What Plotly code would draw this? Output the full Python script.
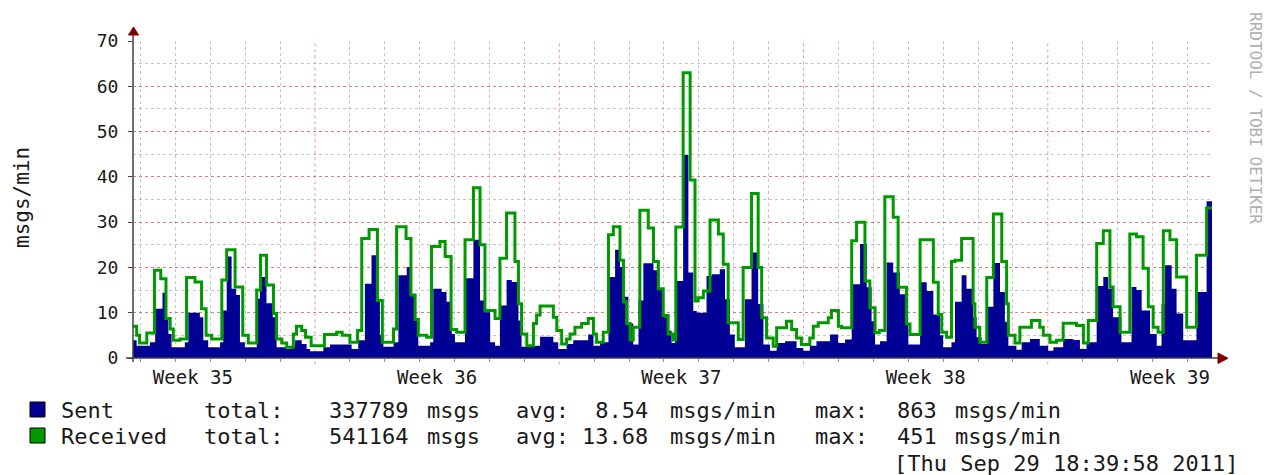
import plotly.graph_objects as go

# ---------------- data (time in days; day gridlines at integers) ----------------
recv_t = [-0.215, -0.11, -0.03, 0.18, 0.40, 0.58, 0.73, 0.85, 0.94, 1.13, 1.32, 1.56, 1.75, 1.88, 2.04,
          2.33, 2.47, 2.71, 2.93, 3.09, 3.33, 3.44, 3.61, 3.81, 3.90, 4.05, 4.19, 4.38, 4.47, 4.62,
          4.73, 4.89, 5.27, 5.62, 5.78, 6.00, 6.22, 6.34, 6.55, 6.79, 6.93, 7.25, 7.34, 7.61, 7.75,
          7.87, 7.96, 8.20, 8.34, 8.58, 8.73, 8.90, 9.06, 9.30, 9.54, 9.73, 9.87, 10.16, 10.30, 10.49,
          10.73, 10.83, 10.92, 11.07, 11.26, 11.35, 11.45, 11.83, 11.93, 12.07, 12.21, 12.31, 12.45,
          12.64, 12.83, 12.98, 13.07, 13.26, 13.41, 13.55, 13.74, 13.84, 13.93, 14.03, 14.12, 14.31,
          14.55, 14.70, 14.84, 14.98, 15.12, 15.27, 15.34, 15.55, 15.75, 15.89, 15.98, 16.13, 16.32,
          16.56, 16.70, 16.84, 17.13, 17.27, 17.51, 17.70, 17.80, 17.94, 18.13, 18.23, 18.51, 18.66,
          18.80, 18.94, 19.18, 19.28, 19.42, 19.71, 19.80, 20.00, 20.09, 20.38, 20.52, 20.76, 20.90,
          21.05, 21.17, 21.33, 21.57, 21.71, 21.95, 22.05, 22.34, 22.72, 22.86, 22.96, 23.10, 23.24,
          23.34, 23.53, 23.86, 23.91, 24.05, 24.25, 24.44, 24.68, 24.82, 24.87, 25.06, 25.20, 25.53,
          25.77, 25.87, 26.06, 26.25, 26.44, 26.82, 27.02, 27.16, 27.40, 27.59, 27.78, 27.87, 28.07,
          28.35, 28.54, 28.73, 28.88, 29.02, 29.16, 29.31, 29.50, 29.69, 29.98, 30.26, 30.55, 30.705]
recv_v = [7.0, 5.0, 3.3, 5.5, 19.4, 17.5, 8.7, 6.4, 3.9, 4.2, 17.8, 16.8, 10.9, 5.0, 4.2,
          17.2, 23.9, 15.7, 5.0, 3.3, 15.0, 22.7, 16.1, 9.8, 4.2, 3.3, 2.4, 5.3, 7.0, 6.1,
          4.6, 2.7, 5.2, 5.7, 5.0, 3.5, 6.1, 26.4, 28.4, 12.7, 3.5, 6.4, 29.0, 26.4, 13.9,
          8.5, 5.0, 4.6, 24.6, 25.7, 22.4, 6.3, 5.7, 26.1, 37.6, 25.0, 10.5, 8.7, 22.0, 32.0,
          21.3, 12.0, 5.3, 2.7, 7.6, 9.5, 11.5, 9.0, 6.1, 3.1, 4.2, 5.3, 6.8,
          7.6, 8.7, 5.3, 3.5, 5.7, 27.2, 29.0, 21.6, 12.4, 7.6, 4.0, 6.8, 32.6,
          28.7, 21.3, 15.3, 9.4, 5.3, 4.0, 28.9, 63.0, 39.3, 12.6, 13.3, 14.8, 30.5,
          27.4, 20.7, 7.8, 4.1, 20.0, 36.3, 20.0, 8.9, 4.4, 2.6, 6.7, 8.1, 6.3,
          4.4, 3.0, 4.4, 7.0, 7.8, 8.9, 10.5, 7.0, 6.7, 25.9, 30.0, 17.0, 11.1,
          5.6, 6.1, 35.6, 31.1, 15.6, 7.5, 5.2, 26.1, 16.7, 9.6, 5.7, 4.6, 21.3,
          21.6, 26.4, 12.0, 6.8, 3.5, 17.8, 31.8, 21.3, 12.0, 5.0, 3.3, 6.8, 8.3,
          6.8, 5.0, 3.5, 3.9, 7.7, 7.2, 3.3, 8.3, 25.3, 28.1, 15.7, 11.3, 5.7,
          27.4, 26.8, 19.8, 11.3, 6.8, 5.7, 28.1, 26.1, 17.9, 6.8, 22.7, 33.1, 33.1]

sent_t = [-0.215, -0.11, 0.27, 0.42, 0.63, 0.72, 0.80, 0.89, 1.27, 1.37, 1.70, 1.80, 1.94, 2.28,
          2.37, 2.47, 2.61, 2.74, 2.85, 2.99, 3.33, 3.42, 3.61, 3.79, 3.90, 4.19, 4.33, 4.43, 4.62,
          4.76, 4.86, 5.24, 5.43, 6.05, 6.24, 6.43, 6.62, 6.77, 6.86, 6.96, 7.25, 7.39, 7.63, 7.72,
          7.87, 7.96, 8.30, 8.39, 8.63, 8.77, 8.92, 9.01, 9.30, 9.54, 9.73, 9.87, 10.02, 10.16,
          10.30, 10.49, 10.64, 10.83, 10.92, 11.21, 11.45, 11.83, 11.97, 12.21, 12.40, 12.83, 12.98,
          13.17, 13.41, 13.60, 13.74, 13.84, 13.98, 14.12, 14.27, 14.41, 14.70, 14.84, 14.98, 15.12,
          15.22, 15.32, 15.55, 15.70, 15.84, 15.94, 16.22, 16.37, 16.60, 16.75, 16.89, 17.03, 17.32,
          17.51, 17.70, 17.85, 18.04, 18.23, 18.47, 18.80, 18.99, 19.18, 19.37, 19.76, 19.99, 20.19,
          20.38, 20.62, 20.81, 20.95, 21.05, 21.19, 21.38, 21.57, 21.76, 21.91, 22.00, 22.34, 22.53,
          22.72, 22.91, 23.00, 23.24, 23.34, 23.53, 23.67, 23.86, 23.96, 24.10, 24.25, 24.44, 24.63,
          24.77, 24.87, 25.10, 25.25, 25.49, 25.77, 26.01, 26.16, 26.44, 26.73, 26.92, 27.11, 27.40,
          27.59, 27.73, 27.87, 28.11, 28.40, 28.54, 28.69, 28.93, 29.12, 29.26, 29.36, 29.55, 29.69,
          29.88, 30.26, 30.55, 30.705]
sent_v = [3.9, 2.7, 3.5, 10.9, 14.4, 9.0, 5.3, 2.4, 3.5, 10.0, 9.0, 3.9, 2.4, 3.5,
          10.5, 22.4, 15.3, 13.9, 3.5, 2.4, 13.1, 17.9, 12.1, 9.0, 2.4, 2.0, 2.7, 3.9, 3.1,
          2.0, 1.5, 2.4, 3.0, 2.0, 3.9, 16.4, 22.7, 12.7, 5.0, 2.5, 3.5, 18.3, 20.1, 13.9,
          8.3, 2.7, 3.5, 15.3, 14.6, 12.4, 5.3, 3.5, 17.6, 26.1, 12.7, 10.1, 3.5, 2.7,
          11.6, 17.2, 16.8, 8.3, 2.5, 2.7, 4.7, 3.5, 2.0, 3.1, 3.9, 5.2, 2.7,
          3.5, 17.9, 23.9, 20.1, 13.5, 7.6, 3.0, 12.7, 20.9, 19.4, 15.3, 9.0, 6.0,
          3.3, 17.0, 44.8, 18.9, 10.4, 10.0, 18.1, 18.5, 19.6, 13.0, 5.2, 2.4, 13.0,
          23.3, 11.9, 3.0, 1.6, 3.3, 3.7, 2.2, 1.6, 2.7, 3.7, 5.2, 3.3, 4.1,
          16.3, 25.2, 15.6, 8.1, 3.0, 3.7, 21.1, 18.9, 14.1, 8.0, 3.0, 16.7, 14.8,
          9.6, 5.0, 2.4, 3.5, 12.4, 18.3, 15.3, 9.0, 4.6, 3.1, 11.3, 21.0, 14.6,
          8.0, 2.7, 1.8, 3.5, 4.2, 2.7, 1.6, 2.4, 4.2, 4.0, 2.0, 3.5, 15.9,
          17.9, 15.3, 9.0, 3.5, 15.7, 15.0, 10.5, 5.3, 2.7, 12.0, 20.5, 15.3, 9.8,
          3.9, 14.6, 34.6, 34.6]

week_labels = ["Week 35", "Week 36", "Week 37", "Week 38", "Week 39"]
week_label_pos = [1.5, 8.5, 15.5, 22.5, 29.5]
week_bounds = [5, 12, 19, 26]
y_ticks = [0, 10, 20, 30, 40, 50, 60, 70]

series_names = ["Sent", "Received"]
totals = [337789, 541164]
avgs = [8.54, 13.68]
maxes = [863, 451]
timestamp = "[Thu Sep 29 18:39:58 2011]"
watermark = "RRDTOOL / TOBI OETIKER"

X_RANGE = [-0.215, 30.705]
BLUE = "#000094"
GREEN = "#009900"
MONO = "DejaVu Sans Mono"

# ---------------- layout helpers (pixel -> paper) ----------------
L, R, T, B = 133, 1212, 41, 358
def px(p):
    return (p - L) / (R - L)
def py(p):
    return (B - p) / (B - T)

fig = go.Figure()
fig.add_trace(go.Scatter(x=sent_t, y=sent_v, mode="lines", line=dict(shape="hv", width=0, color=BLUE),
                         fill="tozeroy", fillcolor=BLUE, hoverinfo="skip"))
fig.add_trace(go.Scatter(x=recv_t, y=recv_v, mode="lines", line=dict(shape="hv", width=3, color=GREEN),
                         hoverinfo="skip"))

day_lines = [d for d in range(0, 31) if d not in week_bounds]
MGRID = "rgba(235,70,70,0.55)"
GRID = "rgba(140,140,140,0.5)"

fig.update_layout(
    width=1267, height=475,
    margin=dict(l=L, r=1267 - R, t=T, b=475 - B),
    paper_bgcolor="white", plot_bgcolor="white",
    showlegend=False,
    xaxis=dict(range=X_RANGE, tickmode="array", tickvals=week_label_pos, ticktext=week_labels,
               showgrid=False, zeroline=False, showline=False, ticks="",
               tickfont=dict(family=MONO, size=19, color="#1a1a1a"), ticklabelstandoff=6,
               minor=dict(tickmode="array", tickvals=day_lines, showgrid=True, gridcolor=GRID,
                          griddash="dot", gridwidth=1, ticks="outside", ticklen=3, tickcolor="#909090")),
    yaxis=dict(range=[0, 70], tickmode="array", tickvals=y_ticks, showgrid=True, gridcolor=MGRID,
               griddash="dot", gridwidth=1, zeroline=False, showline=False,
               ticks="outside", ticklen=4, tickcolor="#404040",
               tickfont=dict(family=MONO, size=18, color="#1a1a1a"), ticklabelstandoff=6,
               minor=dict(dtick=5, showgrid=True, gridcolor=GRID, griddash="dot", gridwidth=1)),
)

shapes = []
for b in week_bounds:
    shapes.append(dict(type="line", xref="x", yref="paper", x0=b, x1=b, y0=-0.02, y1=1,
                       line=dict(color=MGRID, width=1, dash="dot"), layer="below"))
# axes lines
shapes.append(dict(type="line", xref="paper", yref="paper", x0=0, x1=0, y0=py(362), y1=py(35),
                   line=dict(color="#404040", width=1.5), layer="above"))
shapes.append(dict(type="line", xref="paper", yref="paper", x0=px(126), x1=px(1219), y0=0, y1=0,
                   line=dict(color="#404040", width=1.5), layer="above"))
# arrows
shapes.append(dict(type="path", xref="paper", yref="paper",
                   path=f"M {px(128.5)},{py(35)} L {px(138.5)},{py(35)} L {px(133.5)},{py(27)} Z",
                   fillcolor="#800000", line=dict(color="#800000", width=1), layer="above"))
shapes.append(dict(type="path", xref="paper", yref="paper",
                   path=f"M {px(1218)},{py(353)} L {px(1218)},{py(363.5)} L {px(1228)},{py(358.3)} Z",
                   fillcolor="#800000", line=dict(color="#800000", width=1), layer="above"))
# legend swatches
for i, col in enumerate([BLUE, GREEN]):
    top = 402 + 26 * i
    shapes.append(dict(type="rect", xref="paper", yref="paper", x0=px(30), x1=px(45),
                       y0=py(top), y1=py(top + 15), fillcolor=col, line=dict(color="black", width=1)))
fig.update_layout(shapes=shapes)

ann = []
tf = dict(family=MONO, size=22, color="#1a1a1a")
def text(x, y, s, anchor="left", font=tf, **kw):
    ann.append(dict(xref="paper", yref="paper", x=px(x), y=py(y), text=s, showarrow=False,
                    xanchor=anchor, yanchor="middle", font=font, **kw))

for i in range(2):
    yy = 410 + 26 * i
    text(59, yy, series_names[i])
    text(202, yy, "total:")
    text(327, yy, f"{totals[i]:6d}")
    text(425, yy, "msgs")
    text(514, yy, "avg:")
    text(580, yy, f"{avgs[i]:5.2f}")
    text(668, yy, "msgs/min")
    text(813, yy, "max:")
    text(895, yy, f"{maxes[i]:3d}")
    text(953, yy, "msgs/min")
text(1240, 463, timestamp, anchor="right")
ann.append(dict(xref="paper", yref="paper", x=px(22), y=py(198), text="msgs/min", showarrow=False,
                textangle=-90, xanchor="center", yanchor="middle", font=dict(family=MONO, size=21, color="#1a1a1a")))
ann.append(dict(xref="paper", yref="paper", x=px(1256), y=py(118), text=watermark, showarrow=False,
                textangle=90, xanchor="center", yanchor="middle", font=dict(family=MONO, size=16, color="#b0b0b0")))
fig.update_layout(annotations=ann)

fig.write_html("out.html", config={"displayModeBar": False},
               post_script="document.body.style.margin='0px';document.body.style.overflow='hidden';")
